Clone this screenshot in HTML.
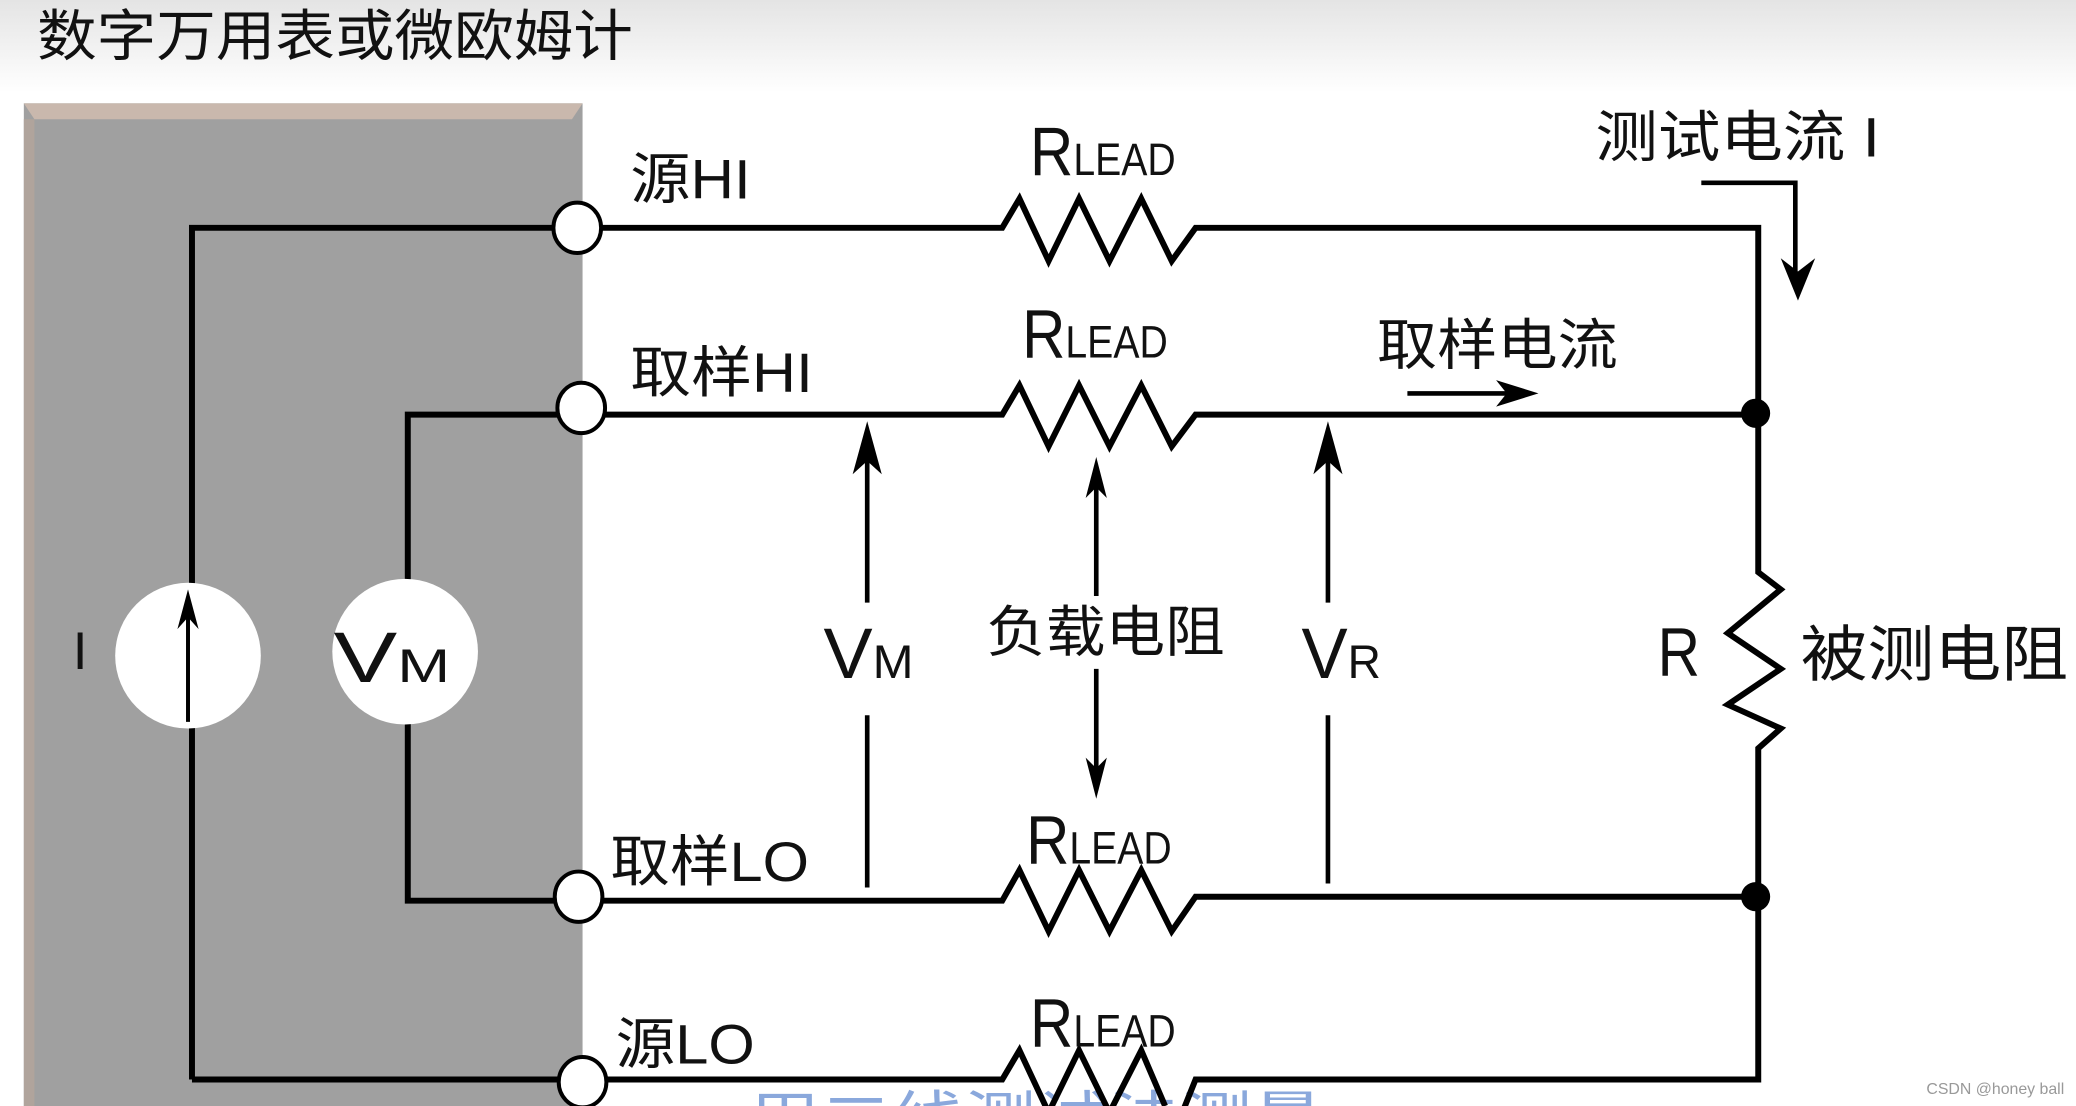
<!DOCTYPE html>
<html><head><meta charset="utf-8"><style>
html,body{margin:0;padding:0;background:#fff;}
svg{display:block;}
text{font-family:"Liberation Sans","Noto Sans CJK SC",sans-serif;fill:#111;}
</style></head><body>
<svg width="2076" height="1106" viewBox="0 0 1568 835" preserveAspectRatio="none" xmlns="http://www.w3.org/2000/svg">
<defs>
<linearGradient id="bg" x1="0" y1="0" x2="0" y2="1">
<stop offset="0" stop-color="#e4e4e4"/><stop offset="1" stop-color="#ffffff"/>
</linearGradient>
</defs>
<rect x="0" y="0" width="1568" height="70" fill="url(#bg)"/>
<text x="28" y="42" font-size="42" textLength="450" lengthAdjust="spacingAndGlyphs">数字万用表或微欧姆计</text>
<rect x="18" y="78" width="422" height="757" fill="#a0a0a0"/>
<polygon points="18,78 440,78 432,90 26,90" fill="#c9b8ad"/>
<rect x="18" y="90" width="8" height="745" fill="#b0a49c"/>
<text x="565" y="860" font-size="44" style="fill:#8aa8dc" textLength="435" lengthAdjust="spacingAndGlyphs">用二线测试法测量</text>
<g stroke="#000" stroke-width="4.5" fill="none" stroke-linejoin="miter">
<polyline points="145,815 145,172 757,172 770,150 792,197 815,150 838,197 862,150 885,197 903,172 1328,172 1328,432 1345,445 1305,478 1345,505 1305,532 1345,550 1328,565 1328,815 903,815 885,860"/>
<polyline points="145,815 757,815 770,793 792,840 815,793 838,840 862,793 880,835"/>
<polyline points="308,492 308,313 757,313 770,291 792,337 815,291 838,337 862,291 885,337 903,313 1328,313"/>
<polyline points="308,492 308,680 757,680 770,657 792,703 815,657 838,703 862,657 885,703 903,677 1328,677"/>
</g>
<g fill="#fff" stroke="#000" stroke-width="3">
<ellipse cx="436" cy="172" rx="18" ry="19"/>
<ellipse cx="439" cy="308" rx="18" ry="19"/>
<ellipse cx="437" cy="677" rx="18" ry="19"/>
<ellipse cx="440" cy="817" rx="18" ry="19"/>
</g>
<circle cx="1326" cy="312" r="11" fill="#000"/>
<circle cx="1326" cy="677" r="11" fill="#000"/>
<circle cx="142" cy="495" r="55" fill="#fff"/>
<circle cx="306" cy="492" r="55" fill="#fff"/>
<line x1="142" y1="545" x2="142" y2="462" stroke="#000" stroke-width="3"/>
<polygon points="142,445 134,475 142,466 150,475" fill="#000"/>
<text x="252" y="515" font-size="54" textLength="88" lengthAdjust="spacingAndGlyphs">V<tspan font-size="36">M</tspan></text>
<text x="55" y="505" font-size="40">I</text>
<g stroke="#000" stroke-width="3.5">
<line x1="655" y1="335" x2="655" y2="455"/>
<line x1="655" y1="540" x2="655" y2="670"/>
<line x1="1003" y1="335" x2="1003" y2="455"/>
<line x1="1003" y1="540" x2="1003" y2="667"/>
<line x1="828" y1="365" x2="828" y2="450"/>
<line x1="828" y1="505" x2="828" y2="585"/>
<line x1="1063" y1="297" x2="1140" y2="297"/>
<polyline points="1285,138 1356,138 1356,205" fill="none"/>
</g>
<polygon points="655,318 644,358 655,348 666,358" fill="#000"/>
<polygon points="1003,318 992,358 1003,348 1014,358" fill="#000"/>
<polygon points="828,345 820,376 828,368 836,376" fill="#000"/>
<polygon points="828,603 820,572 828,580 836,572" fill="#000"/>
<polygon points="1162,297 1130,287 1138,297 1130,307" fill="#000"/>
<polygon points="1358,227 1345,195 1358,205 1371,195" fill="#000"/>
<text x="622" y="512" font-size="54" textLength="68" lengthAdjust="spacingAndGlyphs">V<tspan font-size="36">M</tspan></text>
<text x="983" y="512" font-size="54" textLength="60" lengthAdjust="spacingAndGlyphs">V<tspan font-size="36">R</tspan></text>
<text x="1252" y="510" font-size="52" textLength="32" lengthAdjust="spacingAndGlyphs">R</text>
<text x="745" y="492" font-size="42" textLength="180" lengthAdjust="spacingAndGlyphs">负载电阻</text>
<text x="1360" y="510" font-size="46" textLength="202" lengthAdjust="spacingAndGlyphs">被测电阻</text>
<text x="1205" y="118" font-size="42" textLength="215" lengthAdjust="spacingAndGlyphs">测试电流 I</text>
<text x="1040" y="275" font-size="42" textLength="182" lengthAdjust="spacingAndGlyphs">取样电流</text>
<text x="476" y="150" font-size="42" textLength="91" lengthAdjust="spacingAndGlyphs">源HI</text>
<text x="476" y="296" font-size="42" textLength="138" lengthAdjust="spacingAndGlyphs">取样HI</text>
<text x="461" y="665" font-size="42" textLength="150" lengthAdjust="spacingAndGlyphs">取样LO</text>
<text x="465" y="803" font-size="42" textLength="105" lengthAdjust="spacingAndGlyphs">源LO</text>
<text x="778" y="132" font-size="52" textLength="110" lengthAdjust="spacingAndGlyphs">R<tspan font-size="34">LEAD</tspan></text>
<text x="772" y="270" font-size="52" textLength="110" lengthAdjust="spacingAndGlyphs">R<tspan font-size="34">LEAD</tspan></text>
<text x="775" y="652" font-size="52" textLength="110" lengthAdjust="spacingAndGlyphs">R<tspan font-size="34">LEAD</tspan></text>
<text x="778" y="790" font-size="52" textLength="110" lengthAdjust="spacingAndGlyphs">R<tspan font-size="34">LEAD</tspan></text>
<text x="1455" y="826" font-size="12" style="fill:#999">CSDN @honey ball</text>
</svg>
</body></html>
